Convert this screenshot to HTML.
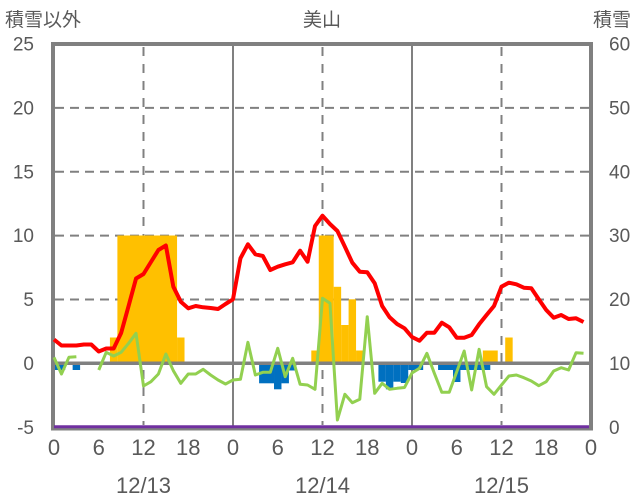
<!DOCTYPE html>
<html><head><meta charset="utf-8">
<style>
html,body{margin:0;padding:0;background:#fff;}
svg{display:block;}
text{font-family:"Liberation Sans","Noto Sans CJK JP",sans-serif;fill:#595959;}
</style></head>
<body>
<svg width="636" height="501" viewBox="0 0 636 501" xmlns="http://www.w3.org/2000/svg">
<rect width="636" height="501" fill="#fff"/>
<!-- gridlines -->
<g stroke="#808080" stroke-width="2" fill="none">
<line x1="55" y1="299.45" x2="589" y2="299.45" stroke-dasharray="9 6"/>
<line x1="55" y1="235.6" x2="589" y2="235.6" stroke-dasharray="9 6"/>
<line x1="55" y1="171.75" x2="589" y2="171.75" stroke-dasharray="9 6"/>
<line x1="55" y1="107.9" x2="589" y2="107.9" stroke-dasharray="9 6"/>
<line x1="143.5" y1="47" x2="143.5" y2="425" stroke-dasharray="9 8"/>
<line x1="322.5" y1="47" x2="322.5" y2="425" stroke-dasharray="9 8"/>
<line x1="501.5" y1="47" x2="501.5" y2="425" stroke-dasharray="9 8"/>
<line x1="233" y1="46" x2="233" y2="426"/>
<line x1="412" y1="46" x2="412" y2="426"/>
</g>
<!-- orange bars -->
<g fill="#FFC000">
<rect x="109.93" y="337.5" width="7.46" height="25.8"/>
<rect x="117.39" y="235.5" width="59.67" height="127.8"/>
<rect x="177.06" y="337.5" width="7.46" height="25.8"/>
<rect x="311.3" y="350.5" width="7.46" height="12.8"/>
<rect x="318.76" y="235.5" width="14.92" height="127.8"/>
<rect x="333.68" y="286.8" width="7.46" height="76.5"/>
<rect x="341.13" y="325" width="7.46" height="38.3"/>
<rect x="348.59" y="299.3" width="7.46" height="64"/>
<rect x="356.05" y="350.5" width="7.46" height="12.8"/>
<rect x="482.83" y="350.5" width="14.92" height="12.8"/>
<rect x="505.21" y="337.5" width="7.46" height="25.8"/>
</g>
<!-- blue bars -->
<g fill="#0070C0">
<rect x="54" y="363.3" width="11.19" height="6.7"/>
<rect x="72.64" y="363.3" width="7.46" height="6.7"/>
<rect x="259.1" y="363.3" width="14.91" height="20"/>
<rect x="274.01" y="363.3" width="7.46" height="26"/>
<rect x="281.47" y="363.3" width="7.46" height="20"/>
<rect x="288.93" y="363.3" width="7.46" height="7.2"/>
<rect x="378.42" y="363.3" width="7.46" height="18.4"/>
<rect x="385.88" y="363.3" width="7.46" height="26"/>
<rect x="393.34" y="363.3" width="7.46" height="18.4"/>
<rect x="400.8" y="363.3" width="7.45" height="19.7"/>
<rect x="408.25" y="363.3" width="14.92" height="6.7"/>
<rect x="438.09" y="363.3" width="52.2" height="6.7"/>
<rect x="453" y="363.3" width="7.46" height="18.7"/>
</g>
<!-- zero line -->
<line x1="53" y1="363.3" x2="591" y2="363.3" stroke="#808080" stroke-width="3.5"/>
<!-- frame -->
<rect x="53" y="44" width="538" height="384.5" fill="none" stroke="#808080" stroke-width="4"/>
<!-- purple line -->
<line x1="54" y1="426.8" x2="589" y2="426.8" stroke="#7030A0" stroke-width="3"/>
<!-- green line -->
<g fill="none" stroke="#92D050" stroke-width="3" stroke-linejoin="round">
<polyline points="54,357.3 61.46,374 68.92,357.3 76.37,356.7"/>
<polyline points="98.75,370 106.21,352.3 113.66,356 121.12,352.3 128.58,343.3 136.04,333.3 143.5,386 150.95,381.7 158.41,374 165.87,354 173.33,370.7 180.79,383.3 188.24,374 195.7,374 203.16,369.3 210.62,375 218.08,380 225.53,384 232.99,380 240.45,379.3 247.91,342.3 255.37,375 262.82,372.3 270.28,372.3 277.74,348.3 285.2,376.7 292.66,358.3 300.11,384.3 307.57,385 315.03,389.3 322.49,298.3 329.95,303.3 337.4,420 344.86,394.3 352.32,402.7 359.78,399.3 367.24,316.7 374.69,393.3 382.15,383.3 389.61,389.3 397.07,388.3 404.53,387.5 411.98,373 419.44,368.3 426.9,353.3 434.36,373.3 441.82,392.3 449.27,392.3 456.73,371.7 464.19,351 471.65,390 479.11,349.3 486.56,386.7 494.02,394.3 501.48,385 508.94,376 516.4,375 523.85,377.7 531.31,381 538.77,385.7 546.23,381.7 553.69,371 561.14,367.7 568.6,370 576.06,352.7 583.52,353.3"/>
</g>
<!-- red line -->
<polyline fill="none" stroke="#FF0000" stroke-width="4" stroke-linejoin="round" points="54,339.5 61.46,345.5 68.92,345.5 76.37,345.5 83.83,344.5 91.29,344.5 98.75,351.5 106.21,348.5 113.66,348.5 121.12,333 128.58,306 136.04,278.5 143.5,274 150.95,262 158.41,250 165.87,245.5 173.33,286.7 180.79,301.7 188.24,308.3 195.7,306 203.16,307.3 210.62,308 218.08,309 225.53,304 232.99,299.3 240.45,258.3 247.91,244.3 255.37,254.3 262.82,256 270.28,270 277.74,266.7 285.2,264.3 292.66,262.3 300.11,250.7 307.57,261.7 315.03,226 322.49,215.7 329.95,224 337.4,231 344.86,246.7 352.32,262.7 359.78,271.7 367.24,272.3 374.69,283.3 382.15,306 389.61,317.3 397.07,324 404.53,328.3 411.98,337 419.44,340.7 426.9,332.7 434.36,332.7 441.82,322.7 449.27,327.3 456.73,337.7 464.19,337.7 471.65,335 479.11,324.3 486.56,315 494.02,306 501.48,286.7 508.94,282.7 516.4,284.3 523.85,287.7 531.31,288.3 538.77,299.3 546.23,310 553.69,317.7 561.14,315 568.6,319 576.06,318.3 583.52,322"/>
<!-- titles -->
<text x="5" y="26" font-size="19">積雪以外</text>
<text x="322" y="26" font-size="19" text-anchor="middle">美山</text>
<text x="631" y="26" font-size="19" text-anchor="end">積雪</text>
<!-- left axis labels -->
<g font-size="19" text-anchor="end">
<text x="34" y="50.5">25</text>
<text x="34" y="114.5">20</text>
<text x="34" y="178.5">15</text>
<text x="34" y="242">10</text>
<text x="34" y="306">5</text>
<text x="34" y="370">0</text>
<text x="34" y="434">-5</text>
</g>
<!-- right axis labels -->
<g font-size="19" text-anchor="start">
<text x="609" y="50.5">60</text>
<text x="609" y="114.5">50</text>
<text x="609" y="178.5">40</text>
<text x="609" y="242">30</text>
<text x="609" y="306">20</text>
<text x="609" y="370">10</text>
<text x="609" y="434">0</text>
</g>
<!-- bottom tick labels -->
<g font-size="22" text-anchor="middle">
<text x="54" y="455">0</text>
<text x="98.7" y="455">6</text>
<text x="143.5" y="455">12</text>
<text x="188.2" y="455">18</text>
<text x="233" y="455">0</text>
<text x="277.7" y="455">6</text>
<text x="322.5" y="455">12</text>
<text x="367.2" y="455">18</text>
<text x="412" y="455">0</text>
<text x="456.7" y="455">6</text>
<text x="501.5" y="455">12</text>
<text x="546.2" y="455">18</text>
<text x="591" y="455">0</text>
<text x="143.5" y="493">12/13</text>
<text x="322.5" y="493">12/14</text>
<text x="501.5" y="493">12/15</text>
</g>
</svg>
</body></html>
